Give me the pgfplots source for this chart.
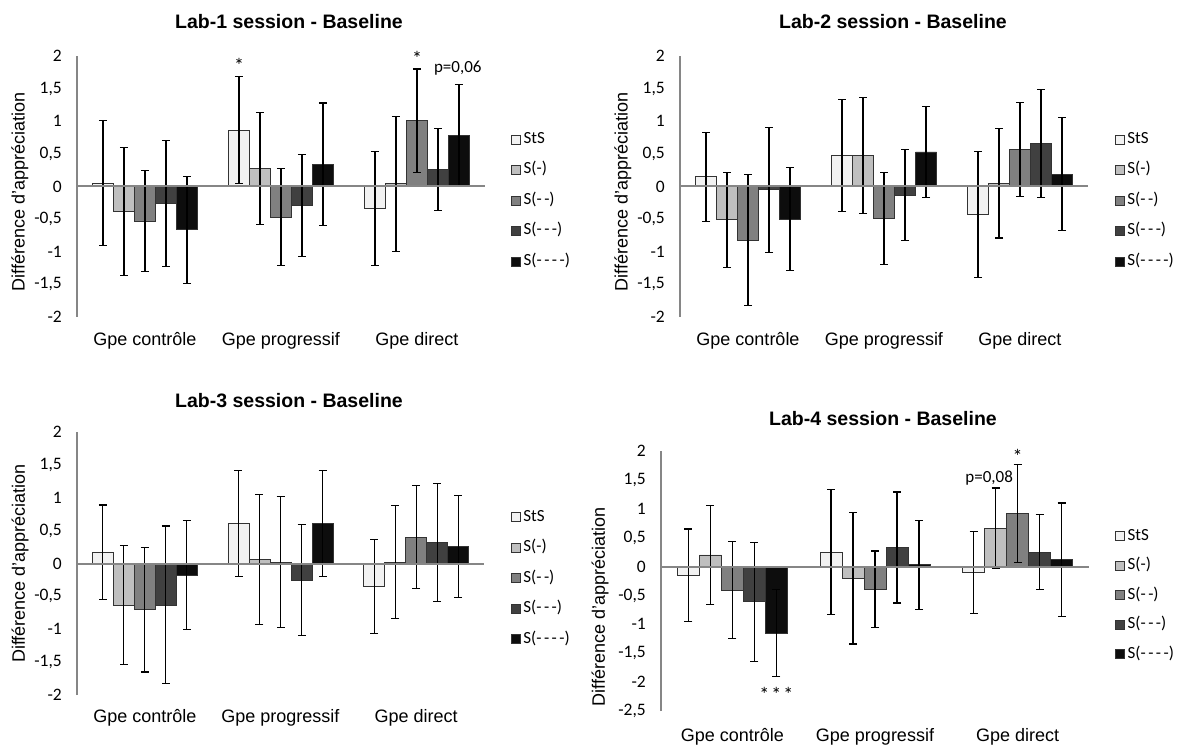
\documentclass[border=0pt]{standalone}
\usepackage{fontspec}
\setmainfont{Liberation Sans}
\newfontfamily\calibri{Carlito}
\usepackage{pgfplots}
\pgfplotsset{compat=1.18}

\definecolor{axgray}{HTML}{868686}
\definecolor{c0}{HTML}{F2F2F2}
\definecolor{c1}{HTML}{BFBFBF}
\definecolor{c2}{HTML}{808080}
\definecolor{c3}{HTML}{404040}
\definecolor{c4}{HTML}{0D0D0D}

\pgfplotsset{
 panel/.style={
  scale only axis,
  ybar=0pt, bar width=21pt,
  xmin=-0.5, xmax=2.5, xtick={0,1,2},
  xticklabels={Gpe contrôle,Gpe progressif,Gpe direct},
  axis x line*=bottom, x axis line style={draw=none},
  axis y line*=left, y axis line style={draw=axgray, line width=2pt},
  major tick length=0pt,
  xticklabel style={font=\fontsize{18}{21}\selectfont, anchor=center, inner sep=0pt, yshift=-24pt},
  yticklabel style={font=\calibri\fontsize{17.5}{20}\selectfont, anchor=east, inner sep=0pt, xshift=-15pt},
  ylabel={Différence d'appréciation},
  clip=false,
  legend style={draw=none, fill=none, anchor=north west, inner sep=0pt,
     font=\calibri\fontsize{17}{19}\selectfont,
     nodes={inner ysep=0pt, inner xsep=2.5pt, text height=11pt, text depth=3pt},
     row sep=16.5pt},
  legend cell align=left,
  legend image code/.code={\draw[#1, line width=0.8pt] (0pt,-4.5pt) rectangle (9pt,4.5pt);},
 },
 bars/.style={draw=black!80, line width=0.8pt, fill=#1,
   error bars/.cd, y dir=both, y explicit,
   error bar style={black, line width=1.1pt},
   error mark options={rotate=90, mark size=4pt, black, line width=1.1pt}},
 yA/.style={ymin=-2, ymax=2, ytick={-2,-1.5,-1,-0.5,0,0.5,1,1.5,2},
   yticklabels={-2,{-1,5},-1,{-0,5},0,{0,5},1,{1,5},2}},
}
\newcommand{\zeroline}{\draw[axgray, line width=2pt] (axis cs:-0.5,0) -- (axis cs:2.5,0);}
\newcommand{\dk}{\kern2.5pt}
\newcommand{\leg}{\legend{StS,S(-),S(-\dk-),S(-\dk-\dk-),S(-\dk-\dk-\dk-)}}
\newcommand{\ann}{\calibri\fontsize{17}{20}\selectfont}
\newcommand{\astfont}{\calibri\fontsize{20}{22}\selectfont}

\begin{document}
\begin{tikzpicture}
\useasboundingbox (0pt,0pt) rectangle (1184pt,745pt);

% ---------- Panel 1 ----------
\begin{axis}[panel, yA, at={(77pt,428pt)}, anchor=south west, width=408pt, height=261pt,
  every axis y label/.style={at={(axis description cs:-0.14,0.48)}, rotate=90, anchor=center, font=\fontsize{18}{21}\selectfont},
  legend style={at={(1.064,0.708)}}]
\addplot[bars=c0] coordinates {(0,0.05) +- (0,0.96) (1,0.86) +- (0,0.82) (2,-0.34) +- (0,0.87)};
\addplot[bars=c1] coordinates {(0,-0.38) +- (0,0.98) (1,0.28) +- (0,0.86) (2,0.04) +- (0,1.03)};
\addplot[bars=c2] coordinates {(0,-0.53) +- (0,0.77) (1,-0.47) +- (0,0.74) (2,1.01) +- (0,0.79)};
\addplot[bars=c3] coordinates {(0,-0.26) +- (0,0.96) (1,-0.29) +- (0,0.78) (2,0.26) +- (0,0.63)};
\addplot[bars=c4] coordinates {(0,-0.66) +- (0,0.82) (1,0.34) +- (0,0.94) (2,0.78) +- (0,0.78)};
\leg
\zeroline
\node[font=\astfont] at (axis cs:1,1.86) [xshift=-42pt] {*};
\node[font=\astfont] at (axis cs:2,1.97) {*};
\node[font=\ann] at (axis cs:2.30,1.82) {p=0,06};
\end{axis}

% ---------- Panel 2 ----------
\begin{axis}[panel, yA, at={(680pt,428pt)}, anchor=south west, width=408pt, height=261pt,
  every axis y label/.style={at={(axis description cs:-0.14,0.48)}, rotate=90, anchor=center, font=\fontsize{18}{21}\selectfont},
  legend style={at={(1.066,0.708)}}]
\addplot[bars=c0] coordinates {(0,0.15) +- (0,0.68) (1,0.48) +- (0,0.86) (2,-0.43) +- (0,0.96)};
\addplot[bars=c1] coordinates {(0,-0.51) +- (0,0.73) (1,0.48) +- (0,0.89) (2,0.05) +- (0,0.84)};
\addplot[bars=c2] coordinates {(0,-0.82) +- (0,1.00) (1,-0.49) +- (0,0.70) (2,0.57) +- (0,0.72)};
\addplot[bars=c3] coordinates {(0,-0.05) +- (0,0.96) (1,-0.13) +- (0,0.70) (2,0.66) +- (0,0.83)};
\addplot[bars=c4] coordinates {(0,-0.50) +- (0,0.79) (1,0.53) +- (0,0.70) (2,0.19) +- (0,0.87)};
\leg
\zeroline
\end{axis}

% ---------- Panel 3 ----------
\begin{axis}[panel, yA, at={(77pt,50pt)}, anchor=south west, width=407pt, height=263pt,
  every axis y label/.style={at={(axis description cs:-0.14,0.5)}, rotate=90, anchor=center, font=\fontsize{18}{21}\selectfont},
  xticklabel style={yshift=1pt},
  legend style={at={(1.066,0.703)}}]
\addplot[bars=c0] coordinates {(0,0.17) +- (0,0.72) (1,0.61) +- (0,0.81) (2,-0.35) +- (0,0.72)};
\addplot[bars=c1] coordinates {(0,-0.63) +- (0,0.90) (1,0.06) +- (0,0.99) (2,0.02) +- (0,0.86)};
\addplot[bars=c2] coordinates {(0,-0.70) +- (0,0.95) (1,0.02) +- (0,1.00) (2,0.40) +- (0,0.78)};
\addplot[bars=c3] coordinates {(0,-0.63) +- (0,1.20) (1,-0.25) +- (0,0.85) (2,0.32) +- (0,0.90)};
\addplot[bars=c4] coordinates {(0,-0.18) +- (0,0.83) (1,0.61) +- (0,0.81) (2,0.26) +- (0,0.78)};
\leg
\zeroline
\end{axis}

% ---------- Panel 4 ----------
\begin{axis}[panel, at={(661pt,34pt)}, anchor=south west, width=428pt, height=260pt,
  bar width=22pt,
  ymin=-2.5, ymax=2, ytick={-2.5,-2,-1.5,-1,-0.5,0,0.5,1,1.5,2},
  yticklabels={{-2,5},-2,{-1,5},-1,{-0,5},0,{0,5},1,{1,5},2},
  every axis y label/.style={at={(axis description cs:-0.1425,0.40)}, rotate=90, anchor=center, font=\fontsize{18}{21}\selectfont},
  xticklabel style={yshift=-2pt},
  legend style={at={(1.061,0.70)}, row sep=15.5pt}]
\addplot[bars=c0] coordinates {(0,-0.15) +- (0,0.80) (1,0.25) +- (0,1.08) (2,-0.10) +- (0,0.71)};
\addplot[bars=c1] coordinates {(0,0.20) +- (0,0.85) (1,-0.20) +- (0,1.14) (2,0.66) +- (0,0.70)};
\addplot[bars=c2] coordinates {(0,-0.41) +- (0,0.84) (1,-0.39) +- (0,0.66) (2,0.92) +- (0,0.85)};
\addplot[bars=c3] coordinates {(0,-0.61) +- (0,1.03) (1,0.33) +- (0,0.96) (2,0.25) +- (0,0.65)};
\addplot[bars=c4] coordinates {(0,-1.15) +- (0,0.75) (1,0.03) +- (0,0.77) (2,0.12) +- (0,0.98)};
\leg
\zeroline
\node[font=\astfont] at (axis cs:0,-2.22) [xshift=44pt] {*\kern2pt*\kern2pt*};
\node[font=\ann] at (axis cs:1.80,1.54) {p=0,08};
\node[font=\astfont] at (axis cs:2,1.90) {*};
\end{axis}

% ---------- Titles ----------
\node[font=\bfseries\fontsize{19.5}{22}\selectfont] at (289pt,723pt) {Lab-1 session - Baseline};
\node[font=\bfseries\fontsize{19.5}{22}\selectfont] at (893pt,723pt) {Lab-2 session - Baseline};
\node[font=\bfseries\fontsize{19.5}{22}\selectfont] at (289pt,344pt) {Lab-3 session - Baseline};
\node[font=\bfseries\fontsize{19.5}{22}\selectfont] at (883pt,326pt) {Lab-4 session - Baseline};
\end{tikzpicture}
\end{document}
